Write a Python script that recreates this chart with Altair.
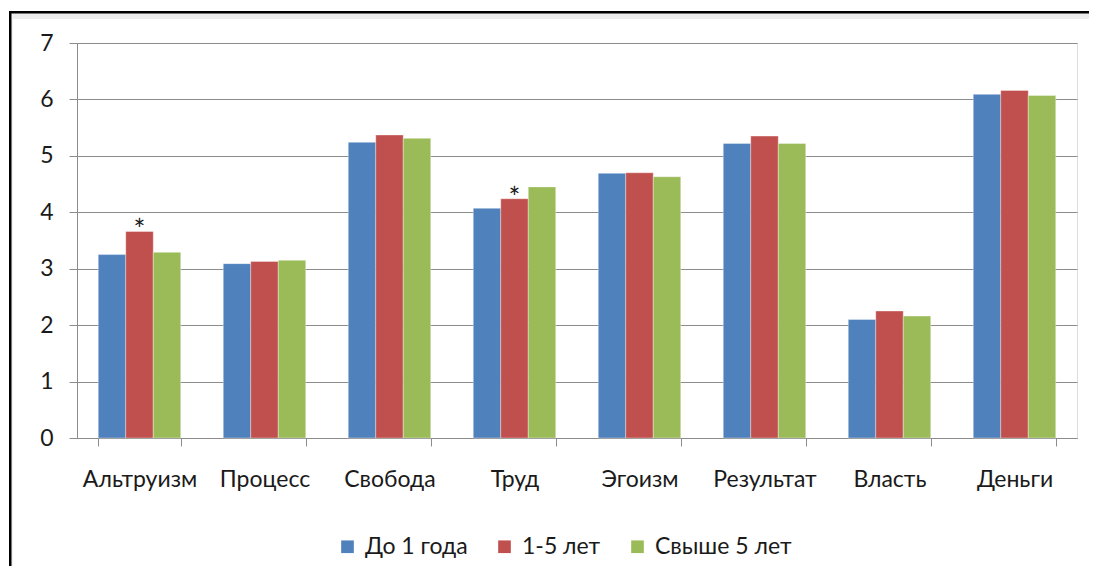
import altair as alt
import pandas as pd

categories = ["Альтруизм", "Процесс", "Свобода", "Труд", "Эгоизм", "Результат", "Власть", "Деньги"]
series_names = ["До 1 года", "1-5 лет", "Свыше 5 лет"]
do_1_goda = [3.25, 3.09, 5.24, 4.07, 4.69, 5.22, 2.10, 6.09]
ot_1_do_5 = [3.66, 3.13, 5.37, 4.24, 4.70, 5.35, 2.25, 6.16]
svyshe_5 = [3.29, 3.15, 5.31, 4.45, 4.63, 5.22, 2.16, 6.07]
marked_categories = ["Альтруизм", "Труд"]   # asterisk over the "1-5 лет" bar
marked_series = "1-5 лет"
colors = ["#4F81BD", "#C0504D", "#9BBB59"]
y_ticks = [0, 1, 2, 3, 4, 5, 6, 7]

FONT = "Lato"
FS = 23

rows = []
for s, vals in zip(series_names, [do_1_goda, ot_1_do_5, svyshe_5]):
    for c, v in zip(categories, vals):
        rows.append({"cat": c, "series": s, "value": v})
df = pd.DataFrame(rows)
marks_df = df[(df["series"] == marked_series) & (df["cat"].isin(marked_categories))].copy()
marks_df["star"] = "*"

x_enc = alt.X(
    "cat:N", sort=categories, title=None,
    scale=alt.Scale(paddingInner=0.34, paddingOuter=0.17),
    axis=alt.Axis(labelAngle=0, labelFont=FONT, labelFontSize=FS, labelColor="#1a1a1a",
                  labelFontWeight="normal", labelPadding=22, tickBand="extent", tickSize=8,
                  tickColor="#8c8c8c", domainColor="#8c8c8c", grid=False),
)
xoff = alt.XOffset("series:N", sort=series_names, scale=alt.Scale(paddingInner=0, paddingOuter=0))
y_enc = alt.Y(
    "value:Q", title=None,
    scale=alt.Scale(domain=[0, 7], nice=False),
    axis=alt.Axis(values=y_ticks, format="d", labelFont=FONT, labelFontSize=FS,
                  labelColor="#1a1a1a", labelPadding=16, tickSize=8, tickColor="#8c8c8c",
                  domainColor="#8c8c8c", gridColor="#8c8c8c", gridWidth=1),
)

bars = alt.Chart(df).mark_bar(stroke="white", strokeWidth=0.6, strokeOpacity=0.6).encode(
    x=x_enc, xOffset=xoff, y=y_enc,
    color=alt.Color(
        "series:N", sort=series_names,
        scale=alt.Scale(domain=series_names, range=colors),
        legend=alt.Legend(title=None, orient="none", direction="horizontal",
                          legendX=259, legendY=492, symbolType="square", symbolSize=160,
                          symbolStrokeWidth=0, labelFont=FONT, labelFontSize=FS,
                          labelColor="#1a1a1a", columnPadding=25, labelOffset=6),
    ),
)

stars = alt.Chart(marks_df).mark_text(font=FONT, fontSize=28, baseline="alphabetic", dy=9,
                                      color="#1a1a1a").encode(
    x=alt.X("cat:N", sort=categories), xOffset=xoff, y=alt.Y("value:Q"), text="star:N"
)

# decorative frame: filled strips along the top and left edges
frame_df = pd.DataFrame({"k": [0]})
shade_top = alt.Chart(frame_df).mark_rect(fill="#ececec", strokeWidth=0).encode(
    x=alt.value(-66), x2=alt.value(1012), y=alt.value(-30), y2=alt.value(-24)
)
shade_left = alt.Chart(frame_df).mark_rect(fill="#f2f2f2", strokeWidth=0).encode(
    x=alt.value(-66), x2=alt.value(-64), y=alt.value(-30), y2=alt.value(523)
)
frame_top = alt.Chart(frame_df).mark_rect(fill="black", strokeWidth=0).encode(
    x=alt.value(-68), x2=alt.value(1012), y=alt.value(-32), y2=alt.value(-29.5)
)
frame_left = alt.Chart(frame_df).mark_rect(fill="black", strokeWidth=0).encode(
    x=alt.value(-68), x2=alt.value(-65.5), y=alt.value(-32), y2=alt.value(523)
)

chart = alt.layer(shade_top, shade_left, frame_top, frame_left, bars, stars).properties(
    width=1000, height=395,
    autosize=alt.AutoSizeParams(type="none"),
    padding={"left": 69, "top": 35, "right": 12, "bottom": 128},
).configure_view(stroke=None).configure(background="white")

chart.save("out.html", embed_options={"renderer": "svg", "actions": False})
